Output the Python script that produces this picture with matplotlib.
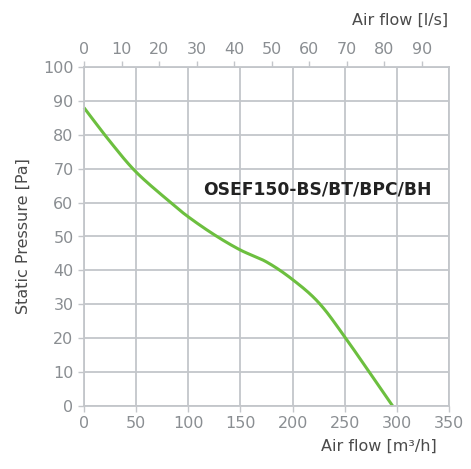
import matplotlib
matplotlib.use("Agg")
import matplotlib.pyplot as plt
import numpy as np

flow_m3h = [0, 25, 50, 82, 100, 125, 150, 175, 200, 225, 250, 296]
pressure = [88, 78, 69, 60.3, 55.8, 50.5, 46, 42.5, 37.3, 30.5, 20.4, 0]
x_ticks = [0, 50, 100, 150, 200, 250, 300, 350]
y_ticks = [0, 10, 20, 30, 40, 50, 60, 70, 80, 90, 100]
top_ticks_ls = [0, 10, 20, 30, 40, 50, 60, 70, 80, 90]
label = "OSEF150-BS/BT/BPC/BH"

plt.rcParams['font.family'] = ['DejaVu Sans']
fig = plt.figure(figsize=(4.71, 4.69), dpi=100)
ax = fig.add_axes([84/471, 1-406/469, 365/471, 339/469])

grid_c = '#c3c6ca'
tick_c = '#8a8e92'
lab_c = '#4a4a4a'
ax.set_xlim(0, 350)
ax.set_ylim(0, 100)
ax.set_xticks(x_ticks)
ax.set_yticks(y_ticks)
ax.grid(True, color=grid_c, lw=1.3)
for s in ax.spines.values():
    s.set_color(grid_c)
    s.set_linewidth(1.3)
ax.tick_params(colors=grid_c, labelcolor=tick_c, labelsize=11.5, length=4, width=1)
ax.set_axisbelow(True)

def catmull(xs, ys, n=30):
    px, py = [], []
    P = np.column_stack([xs, ys])
    P = np.vstack([2*P[0]-P[1], P, 2*P[-1]-P[-2]])
    for i in range(1, len(P)-2):
        p0, p1, p2, p3 = P[i-1], P[i], P[i+1], P[i+2]
        t = np.linspace(0, 1, n, endpoint=False)[:, None]
        pt = 0.5*((2*p1) + (-p0+p2)*t + (2*p0-5*p1+4*p2-p3)*t**2 + (-p0+3*p1-3*p2+p3)*t**3)
        px.extend(pt[:, 0]); py.extend(pt[:, 1])
    px.append(xs[-1]); py.append(ys[-1])
    return px, py

cx, cy = catmull(np.array(flow_m3h, float), np.array(pressure, float))
ax.plot(cx, cy, color='#6cbf3f', lw=2.2, solid_capstyle='butt', clip_on=False)

ax.text((203-84)/365*350, 63.8, label, fontsize=12.3, fontweight='bold',
        color='#222222', va='center', ha='left')

ax.set_ylabel("Static Pressure [Pa]", fontsize=11.5, color=lab_c, labelpad=9)

top = ax.secondary_xaxis('top', functions=(lambda x: x/3.6, lambda x: x*3.6))
top.set_xticks(top_ticks_ls)
top.tick_params(colors=grid_c, labelcolor=tick_c, labelsize=11.5, length=4, width=1)
top.spines['top'].set_visible(False)

fig.text(448/471, 1-20/469, "Air flow [l/s]", ha='right', va='center', fontsize=11.5, color=lab_c)
fig.text(437/471, 1-446/469, "Air flow [m³/h]", ha='right', va='center', fontsize=11.5, color=lab_c)

fig.savefig("out.png", dpi=100)
